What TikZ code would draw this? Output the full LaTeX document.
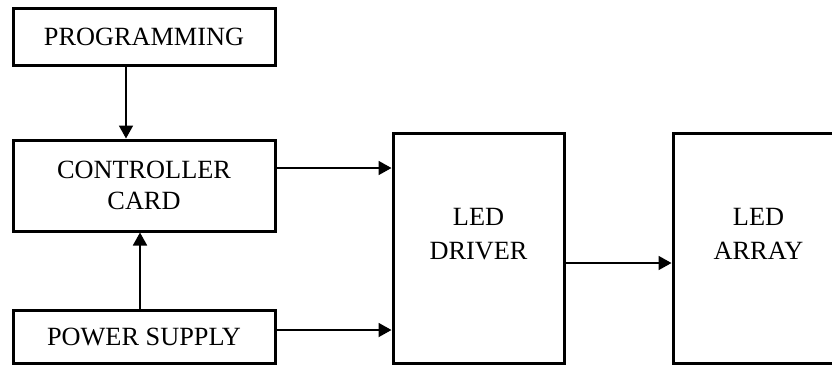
\documentclass[tikz,border=0pt]{standalone}
\usepackage{fontspec}
\setmainfont{Liberation Serif}
\usetikzlibrary{arrows.meta,positioning}

\begin{document}
\begin{tikzpicture}[x=1pt,y=-1pt,
    blk/.style={draw,rectangle,line width=3pt,align=center,inner sep=0pt,font=\fontsize{26.3}{31}\selectfont},
    tallblk/.style={blk,minimum width=171pt,minimum height=230pt,text height=52pt,text depth=29pt},
    link/.style={-{Triangle[length=13pt,width=14pt]},line width=1.8pt}]
  \useasboundingbox (0,0) rectangle (832,365);
  \node[blk,minimum width=262pt,minimum height=57pt] (prog) at (144,36.5) {PROGRAMMING};
  \node[blk,minimum width=262pt,minimum height=91pt] (ctrl) at (144,185.5) {CONTROLLER\\CARD};
  \node[blk,minimum width=262pt,minimum height=53pt] (power) at (144,336.5) {POWER SUPPLY};
  \node[tallblk] (drv) at (478.5,248) {LED\\[3pt]DRIVER};
  \node[tallblk,right=106pt of drv] (arr) {LED\\[3pt]ARRAY};
  \draw[link] ([xshift=-18pt]prog.south) -- ([xshift=-18pt]ctrl.north);
  \draw[link] ([xshift=-4pt]power.north) -- ([xshift=-4pt]ctrl.south);
  \draw[link] ([yshift=17.5pt]ctrl.east) -- ([yshift=80pt]drv.west);
  \draw[link] ([yshift=6.5pt]power.east) -- ([yshift=-82pt]drv.west);
  \draw[link] ([yshift=-15pt]drv.east) -- ([yshift=-15pt]arr.west);
\end{tikzpicture}
\end{document}
